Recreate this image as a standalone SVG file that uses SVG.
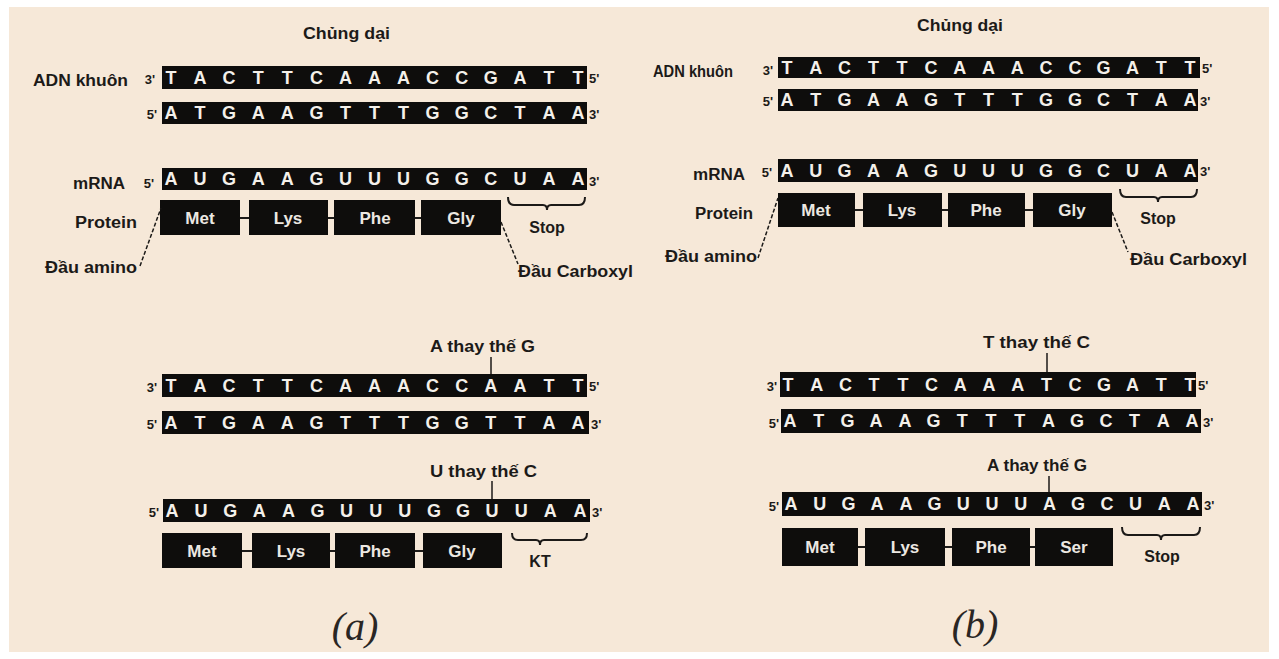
<svg xmlns="http://www.w3.org/2000/svg" width="1279" height="659" viewBox="0 0 1279 659">
<style>
.lbl{font-family:"Liberation Sans",Arial,sans-serif;font-weight:bold;font-size:16px;fill:#1c1a18}
.end{font-family:"Liberation Sans",Arial,sans-serif;font-weight:bold;font-size:13px;fill:#1c1a18}
.seq{font-family:"Liberation Sans",Arial,sans-serif;font-weight:bold;font-size:18px;fill:#f4f0ea;text-anchor:middle}
.strand{fill:#0e0d0c}
.aa{fill:#0e0d0c}
.aat{font-family:"Liberation Sans",Arial,sans-serif;font-weight:bold;font-size:17px;fill:#ece8e2;text-anchor:middle}
.link{stroke:#1c1a18;stroke-width:2}
.dash{stroke:#1c1a18;stroke-width:1.5;stroke-dasharray:4 2;fill:none}
.tick{stroke:#1c1a18;stroke-width:1.5}
.brace{stroke:#1c1a18;stroke-width:2;fill:none}
.cap{font-family:"Liberation Serif","Times New Roman",serif;font-style:italic;font-size:40px;fill:#2a2624;text-anchor:middle}
.mid{text-anchor:middle}
</style>
<rect x="0" y="0" width="1279" height="659" fill="#ffffff"/>
<rect x="9" y="7" width="1260" height="645" fill="#f6e8d8"/>

<!-- ===== Panel (a) top: wild type ===== -->
<g id="a-title"><text class="lbl" x="303" y="39" textLength="87" lengthAdjust="spacingAndGlyphs">Chủng dại</text></g>
<g id="a-wt-template">
<text class="lbl" x="33" y="86" font-size="17" textLength="95" lengthAdjust="spacingAndGlyphs">ADN khuôn</text>
<text class="end" x="155" y="84" text-anchor="end">3'</text>
<rect class="strand" x="162" y="66" width="425" height="23"/>
<text class="seq" y="84" x="171 200.1 229.1 258.2 287.3 316.4 345.4 374.5 403.6 432.6 461.7 490.8 519.9 548.9 578">TACTTCAAACCGATT</text>
<text class="end" x="589" y="83">5'</text>
</g>
<g id="a-wt-coding">
<text class="end" x="157" y="119" text-anchor="end">5'</text>
<rect class="strand" x="162" y="102" width="425" height="22"/>
<text class="seq" y="119" x="171 200.1 229.1 258.2 287.3 316.4 345.4 374.5 403.6 432.6 461.7 490.8 519.9 548.9 578">ATGAAGTTTGGCTAA</text>
<text class="end" x="589" y="119">3'</text>
</g>
<g id="a-wt-mrna">
<text class="lbl" x="73" y="189" textLength="52" lengthAdjust="spacingAndGlyphs">mRNA</text>
<text class="end" x="154" y="188" text-anchor="end">5'</text>
<rect class="strand" x="162" y="168" width="425" height="22"/>
<text class="seq" y="185" x="171 200.1 229.1 258.2 287.3 316.4 345.4 374.5 403.6 432.6 461.7 490.8 519.9 548.9 578">AUGAAGUUUGGCUAA</text>
<text class="end" x="589" y="186">3'</text>
</g>
<g id="a-wt-protein">
<text class="lbl" x="75" y="228" textLength="62" lengthAdjust="spacingAndGlyphs">Protein</text>
<rect class="aa" x="160" y="200" width="80" height="35"/><text class="aat" x="200" y="224">Met</text>
<rect class="aa" x="249" y="200" width="79" height="35"/><text class="aat" x="288" y="224">Lys</text>
<rect class="aa" x="334" y="200" width="81" height="35"/><text class="aat" x="375" y="224">Phe</text>
<rect class="aa" x="421" y="200" width="80" height="35"/><text class="aat" x="461" y="224">Gly</text>
</g>
<g id="a-wt-labels">
<text class="lbl" x="45" y="273" textLength="92" lengthAdjust="spacingAndGlyphs">Đầu amino</text>
<text class="lbl" x="518" y="277" textLength="115" lengthAdjust="spacingAndGlyphs">Đầu Carboxyl</text>
<text class="lbl mid" x="547" y="233">Stop</text>
</g>

<!-- ===== Panel (a) bottom: mutant ===== -->
<g id="a-mut-note1"><text class="lbl" x="430" y="352" textLength="105" lengthAdjust="spacingAndGlyphs">A thay thế G</text></g>
<g id="a-mut-template">
<text class="end" x="157" y="392" text-anchor="end">3'</text>
<rect class="strand" x="162" y="374" width="425" height="23"/>
<text class="seq" y="392" x="171 200.1 229.1 258.2 287.3 316.4 345.4 374.5 403.6 432.6 461.7 490.8 519.9 548.9 578">TACTTCAAACCAATT</text>
<text class="end" x="589" y="391">5'</text>
</g>
<g id="a-mut-coding">
<text class="end" x="157" y="429" text-anchor="end">5'</text>
<rect class="strand" x="162" y="411" width="427" height="23"/>
<text class="seq" y="429" x="171 200.1 229.1 258.2 287.3 316.4 345.4 374.5 403.6 432.6 461.7 490.8 519.9 548.9 578">ATGAAGTTTGGTTAA</text>
<text class="end" x="591" y="429">3'</text>
</g>
<g id="a-mut-note2"><text class="lbl" x="430" y="477" textLength="107" lengthAdjust="spacingAndGlyphs">U thay thế C</text></g>
<g id="a-mut-mrna">
<text class="end" x="159" y="517" text-anchor="end">5'</text>
<rect class="strand" x="163" y="499" width="427" height="23"/>
<text class="seq" y="517" x="172 201.1 230.2 259.3 288.4 317.5 346.6 375.7 404.8 433.9 463 492.1 521.2 550.3 580">AUGAAGUUUGGUUAA</text>
<text class="end" x="592" y="517">3'</text>
</g>
<g id="a-mut-protein">
<rect class="aa" x="162" y="533" width="80" height="35"/><text class="aat" x="202" y="557">Met</text>
<rect class="aa" x="252" y="533" width="78" height="35"/><text class="aat" x="291" y="557">Lys</text>
<rect class="aa" x="335" y="533" width="80" height="35"/><text class="aat" x="375" y="557">Phe</text>
<rect class="aa" x="423" y="533" width="79" height="35"/><text class="aat" x="462" y="557">Gly</text>
</g>
<g id="a-mut-kt"><text class="lbl mid" x="540" y="567">KT</text></g>
<g id="a-caption"><text class="cap" x="355" y="640">(a)</text></g>

<!-- ===== Panel (b) top: wild type ===== -->
<g id="b-title"><text class="lbl" x="917" y="31" textLength="86" lengthAdjust="spacingAndGlyphs">Chủng dại</text></g>
<g id="b-wt-template">
<text class="lbl" x="653" y="77" textLength="80" lengthAdjust="spacingAndGlyphs">ADN khuôn</text>
<text class="end" x="773" y="75" text-anchor="end">3'</text>
<rect class="strand" x="778" y="57" width="422" height="21"/>
<text class="seq" y="74" x="787 815.8 844.6 873.4 902.1 930.9 959.7 988.5 1017.3 1046.1 1074.9 1103.6 1132.4 1161.2 1190">TACTTCAAACCGATT</text>
<text class="end" x="1202" y="73">5'</text>
</g>
<g id="b-wt-coding">
<text class="end" x="773" y="106" text-anchor="end">5'</text>
<rect class="strand" x="778" y="89" width="420" height="22"/>
<text class="seq" y="106" x="787 815.8 844.6 873.4 902.1 930.9 959.7 988.5 1017.3 1046.1 1074.9 1103.6 1132.4 1161.2 1190">ATGAAGTTTGGCTAA</text>
<text class="end" x="1200" y="106">3'</text>
</g>
<g id="b-wt-mrna">
<text class="lbl" x="693" y="180" textLength="52" lengthAdjust="spacingAndGlyphs">mRNA</text>
<text class="end" x="772" y="177" text-anchor="end">5'</text>
<rect class="strand" x="778" y="159" width="420" height="23"/>
<text class="seq" y="177" x="787 815.8 844.6 873.4 902.1 930.9 959.7 988.5 1017.3 1046.1 1074.9 1103.6 1132.4 1161.2 1190">AUGAAGUUUGGCUAA</text>
<text class="end" x="1200" y="176">3'</text>
</g>
<g id="b-wt-protein">
<text class="lbl" x="695" y="219" textLength="58" lengthAdjust="spacingAndGlyphs">Protein</text>
<rect class="aa" x="778" y="193" width="77" height="34"/><text class="aat" x="816" y="216">Met</text>
<rect class="aa" x="863" y="193" width="79" height="34"/><text class="aat" x="902" y="216">Lys</text>
<rect class="aa" x="948" y="193" width="77" height="34"/><text class="aat" x="986" y="216">Phe</text>
<rect class="aa" x="1033" y="193" width="79" height="34"/><text class="aat" x="1072" y="216">Gly</text>
</g>
<g id="b-wt-labels">
<text class="lbl" x="665" y="262" textLength="92" lengthAdjust="spacingAndGlyphs">Đầu amino</text>
<text class="lbl" x="1130" y="265" textLength="117" lengthAdjust="spacingAndGlyphs">Đầu Carboxyl</text>
<text class="lbl mid" x="1158" y="224">Stop</text>
</g>

<!-- ===== Panel (b) bottom: mutant ===== -->
<g id="b-mut-note1"><text class="lbl" x="983" y="348" textLength="107" lengthAdjust="spacingAndGlyphs">T thay thế C</text></g>
<g id="b-mut-template">
<text class="end" x="777" y="391" text-anchor="end">3'</text>
<rect class="strand" x="780" y="372" width="416" height="25"/>
<text class="seq" y="391" x="788 816.7 845.4 874.1 902.9 931.6 960.3 989 1017.7 1046.4 1075.1 1103.9 1132.6 1161.3 1190">TACTTCAAATCGATT</text>
<text class="end" x="1198" y="390">5'</text>
</g>
<g id="b-mut-coding">
<text class="end" x="779" y="428" text-anchor="end">5'</text>
<rect class="strand" x="781" y="409" width="420" height="24"/>
<text class="seq" y="427" x="790 818.7 847.4 876.1 904.9 933.6 962.3 991 1019.7 1048.4 1077.1 1105.9 1134.6 1163.3 1192">ATGAAGTTTAGCTAA</text>
<text class="end" x="1203" y="427">3'</text>
</g>
<g id="b-mut-note2"><text class="lbl" x="987" y="471" textLength="100" lengthAdjust="spacingAndGlyphs">A thay thế G</text></g>
<g id="b-mut-mrna">
<text class="end" x="779" y="511" text-anchor="end">5'</text>
<rect class="strand" x="782" y="492" width="420" height="24"/>
<text class="seq" y="510" x="791 819.7 848.4 877.1 905.9 934.6 963.3 992 1020.7 1049.4 1078.1 1106.9 1135.6 1164.3 1193">AUGAAGUUUAGCUAA</text>
<text class="end" x="1204" y="510">3'</text>
</g>
<g id="b-mut-protein">
<rect class="aa" x="782" y="528" width="76" height="38"/><text class="aat" x="820" y="553">Met</text>
<rect class="aa" x="865" y="528" width="80" height="38"/><text class="aat" x="905" y="553">Lys</text>
<rect class="aa" x="952" y="528" width="78" height="38"/><text class="aat" x="991" y="553">Phe</text>
<rect class="aa" x="1035" y="528" width="78" height="38"/><text class="aat" x="1074" y="553">Ser</text>
</g>
<g id="b-mut-stop"><text class="lbl mid" x="1162" y="562">Stop</text></g>
<g id="b-caption"><text class="cap" x="975" y="638">(b)</text></g>

<!-- ===== Connectors ===== -->
<g id="connectors">
<!-- peptide links -->
<line class="link" x1="240" y1="218" x2="249" y2="218"/>
<line class="link" x1="328" y1="218" x2="334" y2="218"/>
<line class="link" x1="415" y1="218" x2="421" y2="218"/>
<line class="link" x1="242" y1="551" x2="252" y2="551"/>
<line class="link" x1="330" y1="551" x2="335" y2="551"/>
<line class="link" x1="415" y1="551" x2="423" y2="551"/>
<line class="link" x1="855" y1="210" x2="863" y2="210"/>
<line class="link" x1="942" y1="210" x2="948" y2="210"/>
<line class="link" x1="1025" y1="210" x2="1033" y2="210"/>
<line class="link" x1="858" y1="547" x2="865" y2="547"/>
<line class="link" x1="945" y1="547" x2="952" y2="547"/>
<line class="link" x1="1030" y1="547" x2="1035" y2="547"/>
<!-- dashed leaders -->
<line class="dash" x1="140" y1="266" x2="161" y2="208"/>
<line class="dash" x1="501" y1="222" x2="518" y2="264"/>
<line class="dash" x1="758" y1="258" x2="778" y2="198"/>
<line class="dash" x1="1112" y1="212" x2="1128" y2="252"/>
<!-- mutation ticks -->
<line class="tick" x1="491" y1="357" x2="491" y2="374"/>
<line class="tick" x1="492" y1="481" x2="492" y2="499"/>
<line class="tick" x1="1047" y1="353" x2="1047" y2="372"/>
<line class="tick" x1="1049" y1="476" x2="1049" y2="492"/>
<!-- stop braces -->
<path class="brace" d="M508 197 Q508 205 514 205 L543 205 Q547 205 547 210 Q547 205 551 205 L579 205 Q585 205 585 197"/>
<path class="brace" d="M512 533 Q512 540 518 540 L536 540 Q540 540 540 545 Q540 540 544 540 L581 540 Q587 540 587 533"/>
<path class="brace" d="M1120 189 Q1120 197 1126 197 L1154 197 Q1158 197 1158 202 Q1158 197 1162 197 L1191 197 Q1197 197 1197 189"/>
<path class="brace" d="M1122 527 Q1122 535 1128 535 L1157 535 Q1161 535 1161 540 Q1161 535 1165 535 L1194 535 Q1200 535 1200 527"/>
</g>
</svg>
